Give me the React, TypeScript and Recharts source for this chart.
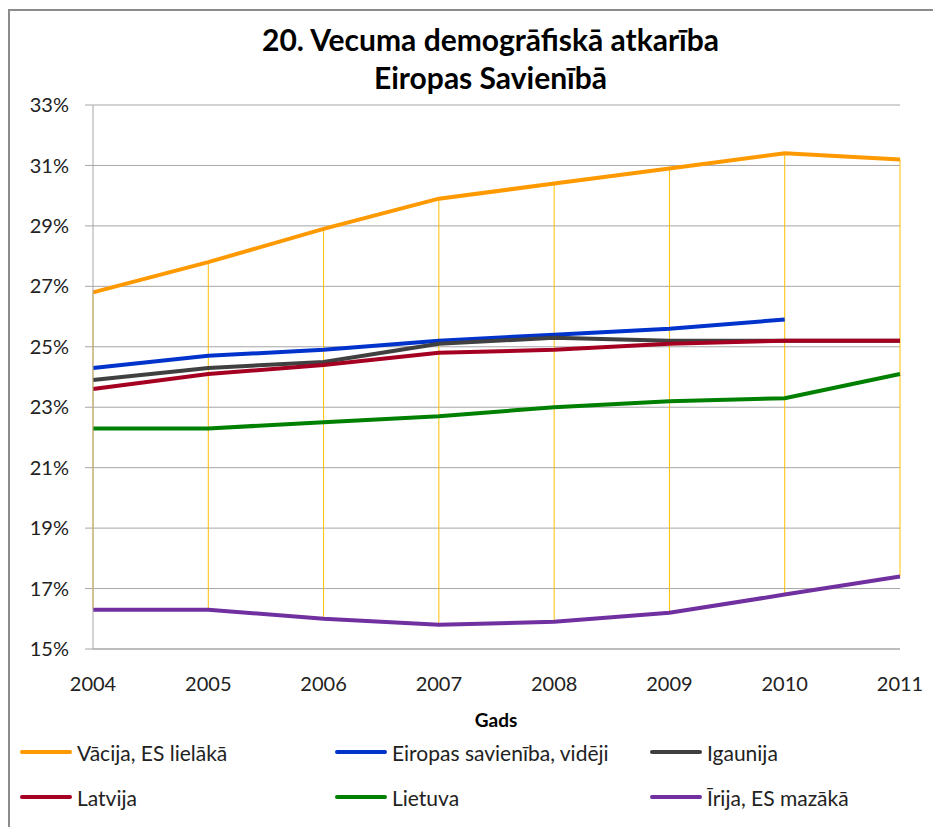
import { LineChart, Line, XAxis, YAxis, CartesianGrid, ErrorBar } from 'recharts';

const years = ['2004', '2005', '2006', '2007', '2008', '2009', '2010', '2011'];
const vacija = [26.8, 27.8, 28.9, 29.9, 30.4, 30.9, 31.4, 31.2];
const esVideji = [24.3, 24.7, 24.9, 25.2, 25.4, 25.6, 25.9, null];
const igaunija = [23.9, 24.3, 24.5, 25.1, 25.3, 25.2, 25.2, 25.2];
const latvija = [23.6, 24.1, 24.4, 24.8, 24.9, 25.1, 25.2, 25.2];
const lietuva = [22.3, 22.3, 22.5, 22.7, 23.0, 23.2, 23.3, 24.1];
const irija = [16.3, 16.3, 16.0, 15.8, 15.9, 16.2, 16.8, 17.4];
const yTicks = [15, 17, 19, 21, 23, 25, 27, 29, 31, 33];

const SERIES = [
  { key: 'vacija', name: 'Vācija, ES lielākā', color: '#FF9900' },
  { key: 'esVideji', name: 'Eiropas savienība, vidēji', color: '#0033CC' },
  { key: 'igaunija', name: 'Igaunija', color: '#404040' },
  { key: 'latvija', name: 'Latvija', color: '#A50021' },
  { key: 'lietuva', name: 'Lietuva', color: '#008000' },
  { key: 'irija', name: 'Īrija, ES mazākā', color: '#7030A0' },
];

const FONT = 'Lato, "Open Sans", sans-serif';

// one row per year, plus the high-low span for the yellow connector lines
const data = years.map((year, i) => {
  const vals = [vacija[i], esVideji[i], igaunija[i], latvija[i], lietuva[i], irija[i]]
    .filter((v): v is number => v != null);
  const high = Math.max(...vals);
  const low = Math.min(...vals);
  return {
    year,
    vacija: vacija[i],
    esVideji: esVideji[i],
    igaunija: igaunija[i],
    latvija: latvija[i],
    lietuva: lietuva[i],
    irija: irija[i],
    high,
    hiLo: [high - low, 0],
  };
});

export default function App() {
  return (
    <div style={{ position: 'relative', width: 933, height: 819, overflow: 'hidden', fontFamily: FONT, background: '#fff' }}>
      <div style={{ position: 'absolute', left: 0, top: 1, width: 960, height: 900, border: '2px solid #8c8c8c' }} />

      <div style={{ position: 'absolute', left: 0, width: 965, top: 12, textAlign: 'center', fontWeight: 700, fontSize: 30, lineHeight: '38px', color: '#000' }}>
        20. Vecuma demogrāfiskā atkarība
        <br />
        Eiropas Savienībā
      </div>

      <div style={{ position: 'absolute', left: 0, top: 0 }}>
        <LineChart width={930} height={819} data={data} margin={{ top: 97, right: 38, bottom: 138, left: 0 }}>
          <CartesianGrid vertical={false} stroke="#A6A6A6" />
          <XAxis
            dataKey="year"
            stroke="#A6A6A6"
            tickLine={false}
            tickSize={6}
            tickMargin={22}
            height={40}
            tick={{ fontSize: 20, fill: '#222', fontFamily: FONT }}
            interval={0}
          />
          <YAxis
            domain={[15, 33]}
            ticks={yTicks}
            width={85}
            stroke="#A6A6A6"
            tickSize={8}
            tickMargin={16}
            tickFormatter={(v) => `${v}%`}
            tick={{ fontSize: 20, fill: '#222', fontFamily: FONT }}
          />
          <Line dataKey="high" stroke="none" dot={false} activeDot={false} isAnimationActive={false}>
            <ErrorBar dataKey="hiLo" width={0} stroke="#FFC000" strokeWidth={1} direction="y" isAnimationActive={false} />
          </Line>
          {SERIES.map((s) => (
            <Line
              key={s.key}
              dataKey={s.key}
              name={s.name}
              stroke={s.color}
              strokeWidth={4}
              dot={false}
              activeDot={false}
              type="linear"
              isAnimationActive={false}
            />
          ))}
        </LineChart>
      </div>

      <div style={{ position: 'absolute', left: 0, width: 976, top: 700, textAlign: 'center', fontWeight: 700, fontSize: 19 }}>
        Gads
      </div>

      <div style={{ position: 'absolute', left: 12, top: 732, width: 920, display: 'grid', gridTemplateColumns: '315px 315px 290px', rowGap: 21 }}>
        {SERIES.map((s) => (
          <div key={s.key} style={{ display: 'flex', alignItems: 'center', height: 24, fontSize: 21, color: '#222', whiteSpace: 'nowrap' }}>
            <div style={{ width: 52, height: 4, borderRadius: 2, background: s.color, marginRight: 5, flexShrink: 0 }} />
            <span>{s.name}</span>
          </div>
        ))}
      </div>
    </div>
  );
}
